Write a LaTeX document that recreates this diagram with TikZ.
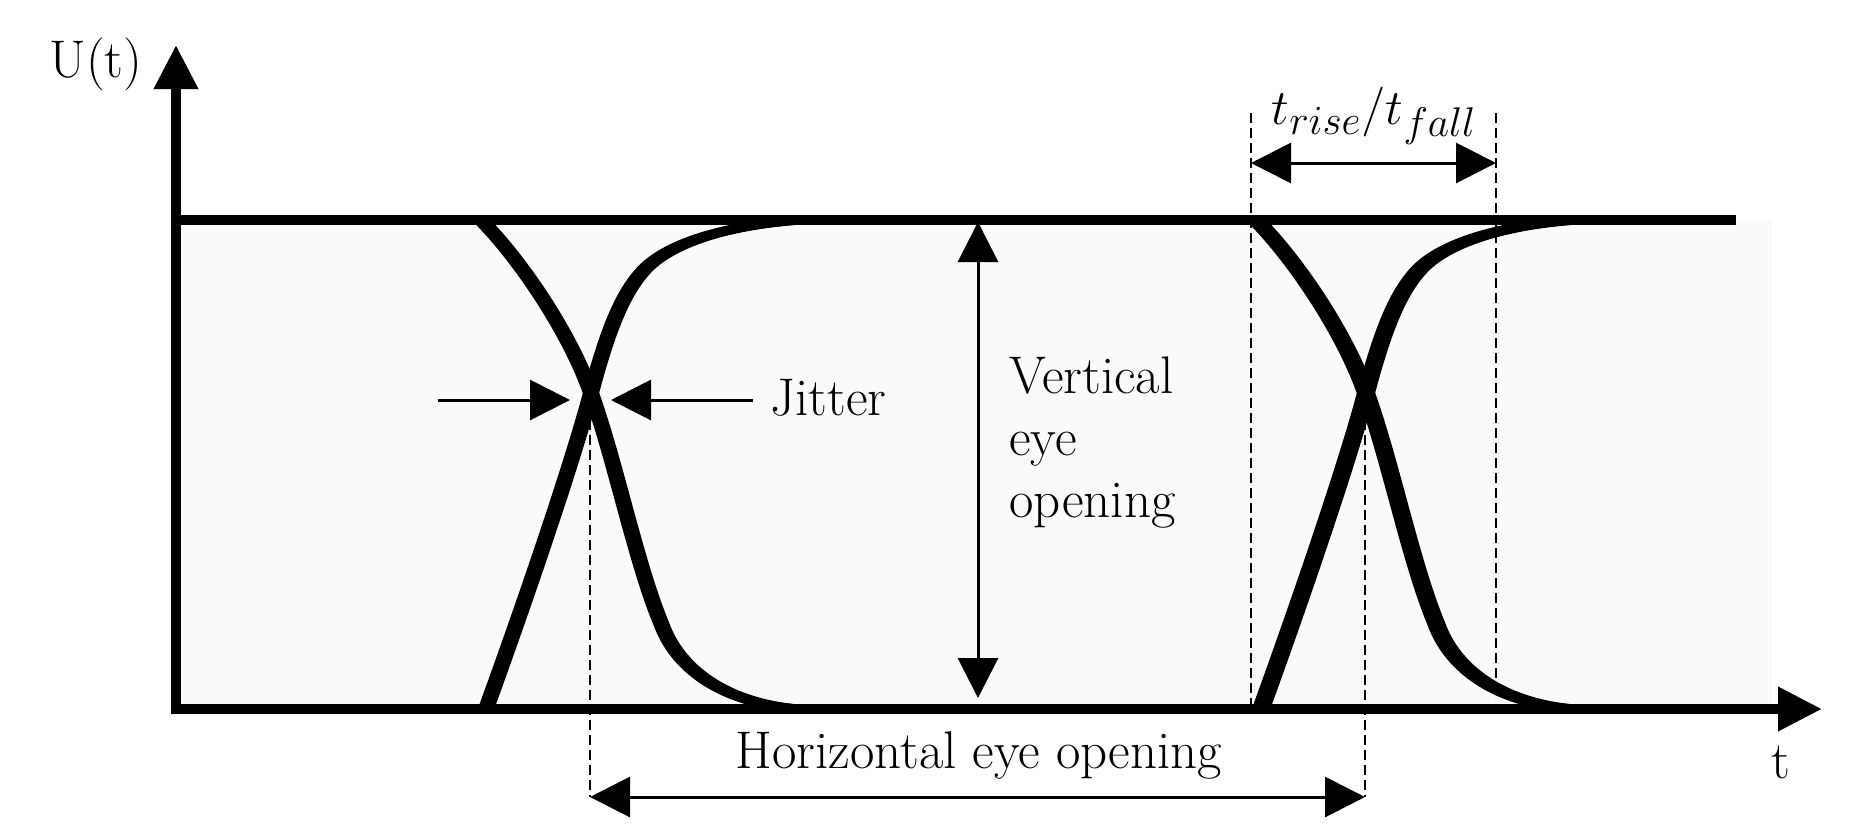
\documentclass[tikz,border=0pt]{standalone}
\usetikzlibrary{arrows.meta}
\begin{document}
\begin{tikzpicture}[x=0.5pt,y=-0.5pt,
  axisline/.style={line width=5pt},
  axisarrow/.style={line width=5pt,-{Triangle[length=22pt,width=21pt]}},
  dimarrow/.style={line width=1.5pt,{Triangle[length=20pt,width=20pt]}-{Triangle[length=20pt,width=20pt]}},
  onearrow/.style={line width=1.5pt,-{Triangle[length=20pt,width=20pt]}},
  guide/.style={line width=1pt,dash pattern=on 5pt off 2.5pt},
  trace/.style={line width=4pt,line cap=round,line join=round},
  lbl/.style={font=\fontsize{26.5}{31}\selectfont,inner sep=0pt},
  fallpic/.pic={\draw[trace] (-110,-173) .. controls (-72,-135) and (-22,-62) .. (0,0)
      .. controls (25,70) and (45,170) .. (70,230)
      .. controls (90,286) and (150,314) .. (215,316);},
  risepic/.pic={\draw[trace] (-105,316) .. controls (-70,220) and (-20,75) .. (0,0)
      .. controls (15,-56) and (30,-100) .. (55,-125)
      .. controls (80,-150) and (140,-172) .. (240,-174);}
]
\useasboundingbox (0,0) rectangle (1865,837);
\fill[black!2] (176,220) rectangle (1772,709);

% axes
\coordinate (TL) at (176,220);
\coordinate (TR) at (1736,220);
\coordinate (Ybot) at (176,714);
\coordinate (Ytop) at (176,45);
\coordinate (Xbeg) at (171,709);
\coordinate (Xend) at (1822,709);
\draw[axisline] (TL) -- (TR);
\draw[axisarrow] (Ybot) -- (Ytop);
\draw[axisarrow] (Xbeg) -- (Xend);

% crossings
\coordinate (C1) at (591,393);
\coordinate (C2) at (1366,393);

% eye traces
\foreach \d in {-2pt,-0.7pt,0.7pt,2pt}{
  \pic at ([xshift=\d]C1) {fallpic};
  \pic at ([xshift=\d]C1) {risepic};
}
\foreach \d in {-2.5pt,-1pt,1pt,2.5pt}{
  \pic at ([xshift=\d]C2) {fallpic};
  \pic at ([xshift=\d]C2) {risepic};
}

% guides
\coordinate (g1a) at (590,405);  \coordinate (g1b) at (590,797);
\coordinate (g2a) at (1365,405); \coordinate (g2b) at (1365,797);
\coordinate (g3a) at (1251,113); \coordinate (g3b) at (1251,709);
\coordinate (g4a) at (1496,113); \coordinate (g4b) at (1496,698);
\draw[guide] (g1a) -- (g1b);
\draw[guide] (g2a) -- (g2b);
\draw[guide] (g3a) -- (g3b);
\draw[guide] (g4a) -- (g4b);

% dimension arrows
\coordinate (h1) at (590,797); \coordinate (h2) at (1365,797);
\draw[dimarrow] (h1) -- (h2);
\coordinate (r1) at (1251,163); \coordinate (r2) at (1496,163);
\draw[dimarrow] (r1) -- (r2);
\coordinate (v1) at (978,222); \coordinate (v2) at (978,698);
\draw[dimarrow] (v1) -- (v2);

% jitter arrows
\coordinate (jl) at (438,400); \coordinate (jlt) at (570,400);
\coordinate (jr) at (753,400); \coordinate (jrt) at (611,400);
\draw[onearrow] (jl) -- (jlt);
\draw[onearrow] (jr) -- (jrt);

% labels
\node[lbl] (U) at (96,64) {U(t)};
\node[lbl] (tlab) at (1781,762) {t};
\node[lbl,anchor=west] (jit) at (770,398) {Jitter};
\node[lbl,align=left,anchor=west] (vert) at (1009,443) {Vertical\\eye\\opening};
\node[lbl] (heo) at (979,756) {Horizontal eye opening};
\node[lbl,font=\fontsize{31}{36}\selectfont] (trf) at (1374,116) {$t_{rise}/t_{fall}$};
\end{tikzpicture}
\end{document}
